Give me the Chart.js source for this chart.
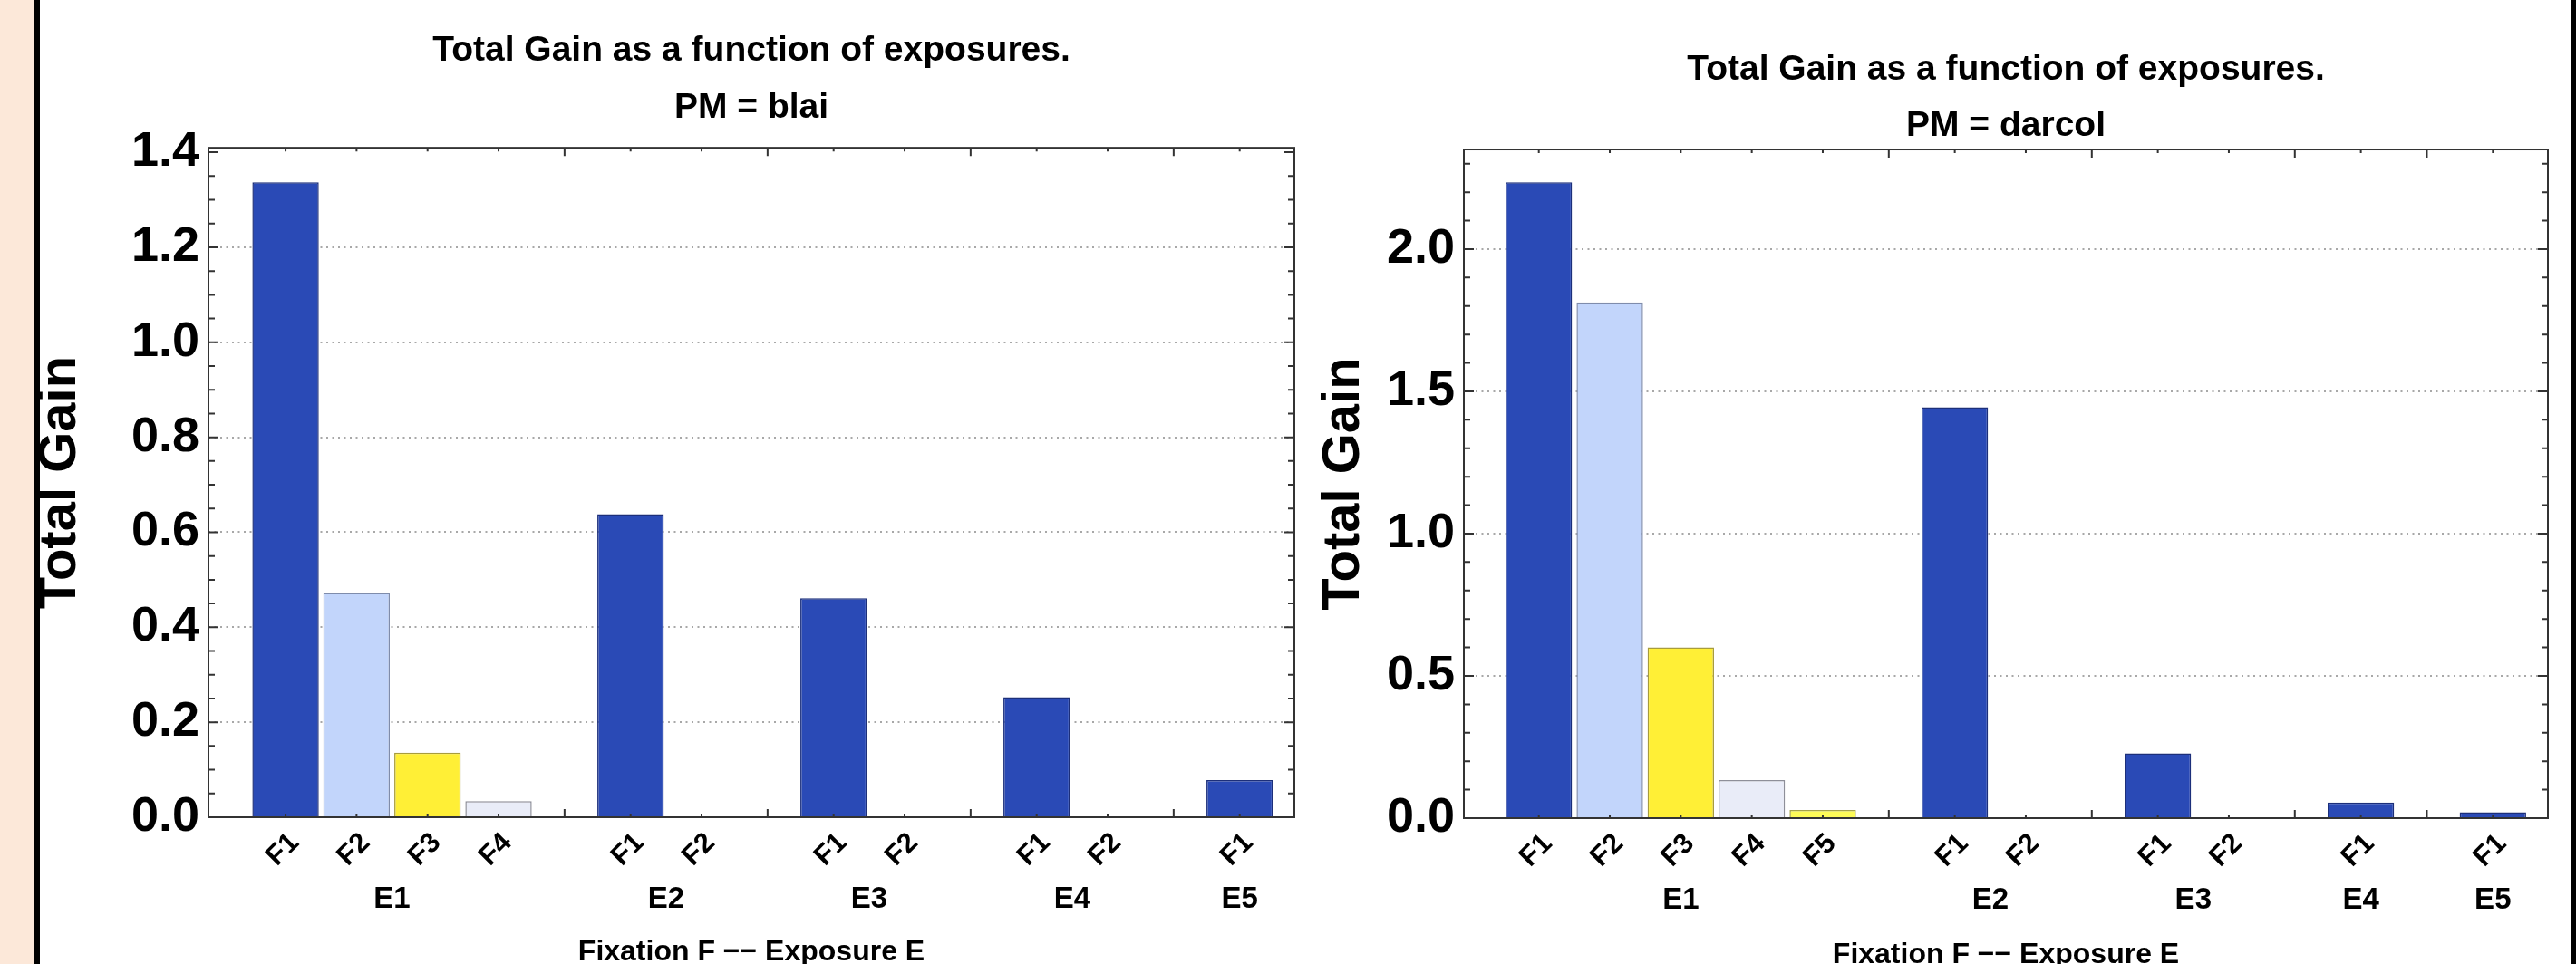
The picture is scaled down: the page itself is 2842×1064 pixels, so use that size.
<!DOCTYPE html>
<html><head><meta charset="utf-8">
<script src="https://cdn.jsdelivr.net/npm/chart.js@4.4.1/dist/chart.umd.min.js"></script>
<style>
html,body{margin:0;padding:0;width:2842px;height:1064px;overflow:hidden;background:#fff;}
#peach{position:absolute;left:0;top:0;width:38px;height:1064px;background:#fce8d9;}
#lline{position:absolute;left:38px;top:0;width:6px;height:1064px;background:#000;}
#rline{position:absolute;left:2837px;top:0;width:5px;height:1064px;background:#000;}
#c1{position:absolute;left:0;top:0;}
#c2{position:absolute;left:1440px;top:0;}
</style></head><body>
<div id="peach"></div><div id="lline"></div><div id="rline"></div>
<canvas id="c1" width="1440" height="1067"></canvas>
<canvas id="c2" width="1402" height="1070"></canvas>
<script>
// ---- data ----
const exposures = ['E1', 'E2', 'E3', 'E4', 'E5'];
const blaiFixations = [['F1','F2','F3','F4'], ['F1','F2'], ['F1','F2'], ['F1','F2'], ['F1']];
const blaiGain = [[1.337, 0.472, 0.136, 0.034], [0.638, 0], [0.461, 0], [0.253, 0], [0.078]];
const darcolFixations = [['F1','F2','F3','F4','F5'], ['F1','F2'], ['F1','F2'], ['F1'], ['F1']];
const darcolGain = [[2.235, 1.813, 0.600, 0.134, 0.029], [1.444, 0], [0.228, 0], [0.055], [0.021]];
const blaiYTicks = [0, 0.2, 0.4, 0.6, 0.8, 1.0, 1.2, 1.4];
const darcolYTicks = [0, 0.5, 1.0, 1.5, 2.0];
const chartTitle = 'Total Gain as a function of exposures.';
const yTitle = 'Total Gain';
const xTitle = 'Fixation F \u2212\u2212 Exposure E';

// ---- styles ----
const FONT = "'Liberation Sans', Arial, Helvetica, sans-serif";
Chart.defaults.font.family = FONT;
Chart.defaults.color = '#000';
const GROUP_GAP = 1.86;
const fillColors = {F1:'#2a4ab6', F2:'#c2d5fb', F3:'#ffef36', F4:'#e9ecf8', F5:'#fdfb57'};
const edgeColors = {F1:'#1c2f7a', F2:'#7f8cab', F3:'#a89c3c', F4:'#8e8f99', F5:'#a5a34a'};
const FRAME = '#333333';

function layoutGroups(fix) {
  const pos = [], labels = [], centers = [], seps = [];
  let start = 0;
  fix.forEach((g, gi) => {
    g.forEach((f, i) => { pos.push(start + i); labels.push(f); });
    const last = start + g.length - 1;
    centers.push((start + last) / 2);
    if (gi < fix.length - 1) seps.push(last + GROUP_GAP / 2);
    start = last + GROUP_GAP;
  });
  return {pos, labels, centers, seps};
}

const frameTicks = {
  id: 'frameTicks',
  afterDatasetsDraw(chart, args, o) {
    const {ctx, chartArea: a, scales: {x, y}} = chart;
    ctx.save();
    ctx.strokeStyle = FRAME;
    ctx.lineWidth = 2;
    ctx.beginPath();
    const n = Math.floor(y.max / o.minor + 1e-6);
    for (let i = 0; i <= n; i++) {
      const v = i * o.minor;
      const r = v / o.major;
      const major = Math.abs(r - Math.round(r)) < 1e-6;
      const len = major ? 11 : 7;
      const py = y.getPixelForValue(v);
      ctx.moveTo(a.left, py); ctx.lineTo(a.left + len, py);
      ctx.moveTo(a.right, py); ctx.lineTo(a.right - len, py);
    }
    o.pos.forEach(v => {
      const px = x.getPixelForValue(v);
      ctx.moveTo(px, a.bottom); ctx.lineTo(px, a.bottom - 4);
      ctx.moveTo(px, a.top); ctx.lineTo(px, a.top + 4);
    });
    o.seps.forEach(v => {
      const px = x.getPixelForValue(v);
      ctx.moveTo(px, a.bottom); ctx.lineTo(px, a.bottom - 9);
      ctx.moveTo(px, a.top); ctx.lineTo(px, a.top + 9);
    });
    ctx.stroke();
    ctx.strokeRect(a.left, a.top, a.width, a.height);
    ctx.restore();
  }
};

function makeChart(id, cfg) {
  const L = layoutGroups(cfg.fix);
  const vals = cfg.gain.flat();
  const data = L.pos.map((p, i) => ({x: p, y: vals[i]}));
  return new Chart(document.getElementById(id), {
    type: 'bar',
    data: {datasets: [{
      data,
      backgroundColor: L.labels.map(f => fillColors[f]),
      borderColor: L.labels.map(f => edgeColors[f]),
      borderWidth: 1.5,
      barPercentage: 0.936,
      categoryPercentage: 1
    }]},
    options: {
      responsive: false, animation: false, devicePixelRatio: 1,
      layout: {padding: {left: 0, right: cfg.padRight, top: 0, bottom: 0}},
      plugins: {
        legend: {display: false}, tooltip: {enabled: false},
        title: {display: true, fullSize: false, text: [chartTitle, cfg.pm], color: '#000',
          font: {size: 39, weight: 'bold', lineHeight: cfg.titleLH},
          padding: {top: cfg.titleTop, bottom: cfg.titleBottom}},
        frameTicks: {minor: cfg.minor, major: cfg.major, pos: L.pos, seps: L.seps}
      },
      scales: {
        x: {
          type: 'linear', position: 'bottom', weight: 0, offset: false,
          min: cfg.xmin, max: cfg.xmax,
          afterBuildTicks: s => { s.ticks = L.pos.map(v => ({value: v})); },
          afterFit: s => { s.height = 60; },
          grid: {display: false, drawTicks: false},
          border: {display: false},
          ticks: {autoSkip: false, minRotation: 45, maxRotation: 45, padding: 10, labelOffset: 10,
            font: {size: 31, weight: 'bold'}, color: '#000',
            callback: (v, i) => L.labels[i]}
        },
        x2: {
          type: 'linear', position: 'bottom', weight: 1, offset: false,
          min: cfg.xmin, max: cfg.xmax,
          afterBuildTicks: s => { s.ticks = L.centers.map(v => ({value: v})); },
          afterFit: s => { s.height = cfg.h2; },
          grid: {display: false, drawTicks: false},
          border: {display: false},
          ticks: {autoSkip: false, maxRotation: 0, padding: 14,
            font: {size: 33, weight: 'bold', lineHeight: 1}, color: '#000',
            callback: (v, i) => exposures[i]},
          title: {display: true, text: xTitle, color: '#000',
            font: {size: 32, weight: 'bold', lineHeight: 1}, padding: {top: 0, bottom: 0}}
        },
        y: {
          type: 'linear', position: 'left', min: 0, max: cfg.ymax,
          afterBuildTicks: s => { s.ticks = cfg.yTicks.map(v => ({value: v})); },
          afterFit: s => { s.width = cfg.yWidth; },
          grid: {drawTicks: false, lineWidth: 2,
            color: c => (c.tick && (c.tick.value <= 0 || c.tick.value > cfg.ymax - 0.03)) ? 'rgba(0,0,0,0)' : '#a8a8a8'},
          border: {display: false, dash: [2, 4.5]},
          ticks: {padding: 10, font: {size: 54, weight: 'bold'}, color: '#000',
            callback: v => v.toFixed(1)},
          title: {display: true, text: yTitle, color: '#000',
            font: {size: 58, weight: 'bold', lineHeight: 1}, padding: {top: cfg.yTitlePad, bottom: 0}}
        }
      }
    },
    plugins: [frameTicks]
  });
}

makeChart('c1', {
  fix: blaiFixations, gain: blaiGain, pm: 'PM = blai', yTicks: blaiYTicks,
  ymax: 1.4095, minor: 0.05, major: 0.2, xmin: -1.086, xmax: 14.21,
  yWidth: 230, yTitlePad: 38, padRight: 12, h2: 105,
  titleTop: 24, titleBottom: 12, titleLH: 1.63
});
makeChart('c2', {
  fix: darcolFixations, gain: darcolGain, pm: 'PM = darcol', yTicks: darcolYTicks,
  ymax: 2.35, minor: 0.1, major: 0.5, xmin: -1.056, xmax: 14.215,
  yWidth: 175, yTitlePad: 14, padRight: 31, h2: 107,
  titleTop: 46, titleBottom: -5, titleLH: 1.59
});
</script>
</body></html>
